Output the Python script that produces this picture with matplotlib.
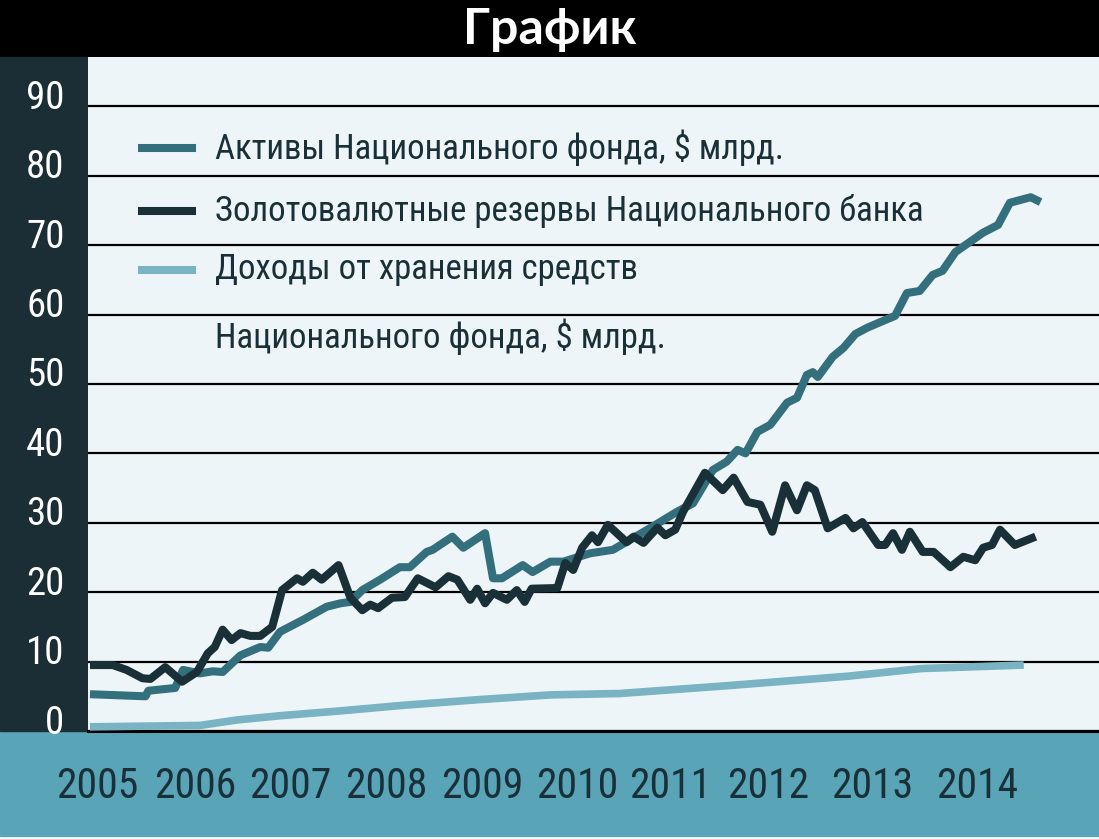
import matplotlib
matplotlib.use('Agg')
import matplotlib.pyplot as plt
from matplotlib import font_manager
from matplotlib.patches import Rectangle
from matplotlib.lines import Line2D
from matplotlib.transforms import ScaledTranslation

# --- data (decimal years, $ bn) ---
assets_x = [2005.02, 2005.58, 2005.61, 2005.88, 2005.96, 2006.13, 2006.26, 2006.36, 2006.54, 2006.74,
            2006.82, 2006.94, 2007.17, 2007.41, 2007.55, 2007.65, 2007.77, 2007.95, 2008.15, 2008.25,
            2008.42, 2008.48, 2008.68, 2008.79, 2009.01, 2009.09, 2009.18, 2009.39, 2009.49, 2009.67,
            2009.80, 2010.07, 2010.30, 2010.65, 2010.95, 2011.11, 2011.31, 2011.45, 2011.56, 2011.64,
            2011.76, 2011.89, 2012.06, 2012.16, 2012.26, 2012.32, 2012.37, 2012.52, 2012.63, 2012.75,
            2012.87, 2013.00, 2013.15, 2013.27, 2013.40, 2013.53, 2013.63, 2013.76, 2013.91, 2014.04,
            2014.19, 2014.31, 2014.52, 2014.62]
assets_y = [5.3, 5.0, 5.8, 6.2, 8.8, 8.3, 8.6, 8.5, 10.9, 12.1,
            12.0, 14.3, 16.0, 17.9, 18.4, 18.6, 20.3, 21.8, 23.6, 23.6,
            25.8, 26.1, 28.0, 26.4, 28.5, 22.0, 22.0, 23.9, 22.9, 24.4,
            24.4, 25.6, 26.1, 29.0, 31.6, 32.8, 37.6, 38.8, 40.5, 40.0,
            43.1, 44.1, 47.3, 48.0, 51.3, 51.7, 51.0, 53.9, 55.2, 57.2,
            58.1, 58.9, 59.8, 63.1, 63.4, 65.7, 66.3, 69.0, 70.5, 71.8,
            72.9, 76.1, 76.9, 76.2]

reserves_x = [2005.02, 2005.25, 2005.39, 2005.55, 2005.63, 2005.78, 2005.95, 2006.10, 2006.21, 2006.28,
              2006.36, 2006.45, 2006.54, 2006.64, 2006.74, 2006.86, 2006.96, 2007.11, 2007.17, 2007.27,
              2007.36, 2007.53, 2007.65, 2007.77, 2007.85, 2007.93, 2008.07, 2008.20, 2008.33, 2008.51,
              2008.64, 2008.73, 2008.86, 2008.93, 2009.01, 2009.09, 2009.23, 2009.33, 2009.41, 2009.48,
              2009.74, 2009.82, 2009.90, 2009.99, 2010.09, 2010.15, 2010.25, 2010.44, 2010.51, 2010.61,
              2010.75, 2010.83, 2010.93, 2011.01, 2011.23, 2011.41, 2011.52, 2011.66, 2011.79, 2011.91,
              2012.04, 2012.16, 2012.26, 2012.34, 2012.47, 2012.65, 2012.73, 2012.82, 2012.98, 2013.05,
              2013.13, 2013.22, 2013.30, 2013.43, 2013.54, 2013.71, 2013.84, 2013.96, 2014.04, 2014.13,
              2014.21, 2014.36, 2014.57]
reserves_y = [9.5, 9.5, 8.8, 7.6, 7.5, 9.2, 7.1, 8.5, 11.2, 12.1,
              14.6, 13.1, 14.1, 13.7, 13.7, 15.0, 20.3, 22.0, 21.5, 22.8,
              21.8, 23.9, 19.2, 17.4, 18.2, 17.7, 19.2, 19.3, 22.0, 20.7,
              22.3, 21.8, 18.9, 20.5, 18.4, 19.9, 18.9, 20.3, 18.6, 20.5,
              20.6, 24.2, 23.2, 26.4, 28.2, 27.2, 29.7, 27.2, 28.0, 27.1,
              29.3, 28.2, 29.0, 31.6, 37.2, 34.7, 36.5, 33.0, 32.6, 28.7,
              35.4, 31.8, 35.4, 34.7, 29.2, 30.7, 29.2, 30.1, 26.8, 26.8,
              28.5, 26.1, 28.7, 25.8, 25.8, 23.6, 25.1, 24.6, 26.4, 26.8,
              29.0, 26.8, 28.0]

income_x = [2005.02, 2006.13, 2006.51, 2006.94, 2007.55, 2008.18, 2008.93, 2009.67, 2010.37,
            2011.43, 2012.68, 2013.42, 2014.45]
income_y = [0.6, 0.8, 1.6, 2.2, 2.9, 3.7, 4.5, 5.2, 5.4, 6.5, 7.9, 9.0, 9.5]

y_ticks = [0, 10, 20, 30, 40, 50, 60, 70, 80, 90]
x_ticks = [2005.09, 2006.08, 2007.04, 2008.01, 2008.98, 2009.94, 2010.88, 2011.87, 2012.92, 2013.98]
x_labels = ['2005', '2006', '2007', '2008', '2009', '2010', '2011', '2012', '2013', '2014']

title = 'График'
legend_labels = ['Активы Национального фонда, $ млрд.',
                 'Золотовалютные резервы Национального банка',
                 'Доходы от хранения средств',
                 'Национального фонда, $ млрд.']

c_assets = '#336f7d'
c_reserves = '#1a3039'
c_income = '#79b3c4'
c_dark = '#1b2e35'
c_band = '#5aa4b7'
c_bg = '#eef5f8'

names = {f.name for f in font_manager.fontManager.ttflist}
narrow = next((n for n in ['Liberation Sans Narrow', 'Roboto Condensed', 'Open Sans Condensed']
               if n in names), 'DejaVu Sans')
fam = [narrow, 'DejaVu Sans']

W, H = 1099, 839
fig = plt.figure(figsize=(W / 100, H / 100), dpi=100, facecolor='white')

def fy(py):
    return 1 - py / H

# background blocks (below the axes so tick labels stay visible)
fig.patches.append(Rectangle((0, fy(57)), 1, 57 / H, transform=fig.transFigure,
                             color='black', zorder=-5))
fig.patches.append(Rectangle((0, fy(836)), 1, (836 - 731) / H, transform=fig.transFigure,
                             color=c_band, zorder=-5))
fig.patches.append(Rectangle((0, fy(731)), 88 / W, (731 - 57) / H, transform=fig.transFigure,
                             color=c_dark, zorder=-5))

fig.text(0.5, fy(29), title, ha='center', va='center', color='white',
         fontsize=36, fontweight='bold', family=['Lato', 'DejaVu Sans'])

ax = fig.add_axes([88 / W, fy(731), 1 - 88 / W, (731 - 57) / H])
ax.set_facecolor(c_bg)
ax.set_xlim(2005.0, 2015.21)
ax.set_ylim(0, 97.1)

ax.plot(income_x, income_y, color=c_income, lw=5.5, solid_capstyle='butt', zorder=3)
ax.plot(assets_x, assets_y, color=c_assets, lw=5.8, solid_capstyle='butt', zorder=4)
ax.plot(reserves_x, reserves_y, color=c_reserves, lw=5.8, solid_capstyle='butt', zorder=5)

ax.set_yticks(y_ticks)
ax.set_yticklabels([str(v) for v in y_ticks], color='white', fontsize=28, family=fam)
ax.set_xticks(x_ticks)
ax.set_xticklabels(x_labels, color=c_reserves, fontsize=30, family=fam)
ax.tick_params(axis='y', length=0, pad=17)
ax.tick_params(axis='x', length=0, pad=25)
for lab in ax.get_yticklabels():
    lab.set_transform(lab.get_transform() + ScaledTranslation(0, 0.12, fig.dpi_scale_trans))

ax.grid(axis='y', color='black', lw=1.6, zorder=1)
ax.set_axisbelow(True)
for s in ['top', 'right', 'left']:
    ax.spines[s].set_visible(False)
ax.spines['bottom'].set_color('black')
ax.spines['bottom'].set_linewidth(2.2)

# legend drawn by hand so the second line of the last entry has no handle
rows = [(148, c_assets), (211, c_reserves), (270, c_income), (337, None)]
for (py, col), lab in zip(rows, legend_labels):
    if col is not None:
        fig.add_artist(Line2D([142 / W, 192 / W], [fy(py), fy(py)], color=col, lw=5.8,
                              transform=fig.transFigure))
    fig.text(215 / W, fy(py), lab, ha='left', va='center', color=c_reserves,
             fontsize=25, family=fam)

fig.savefig('out.png', dpi=100, facecolor='white')
